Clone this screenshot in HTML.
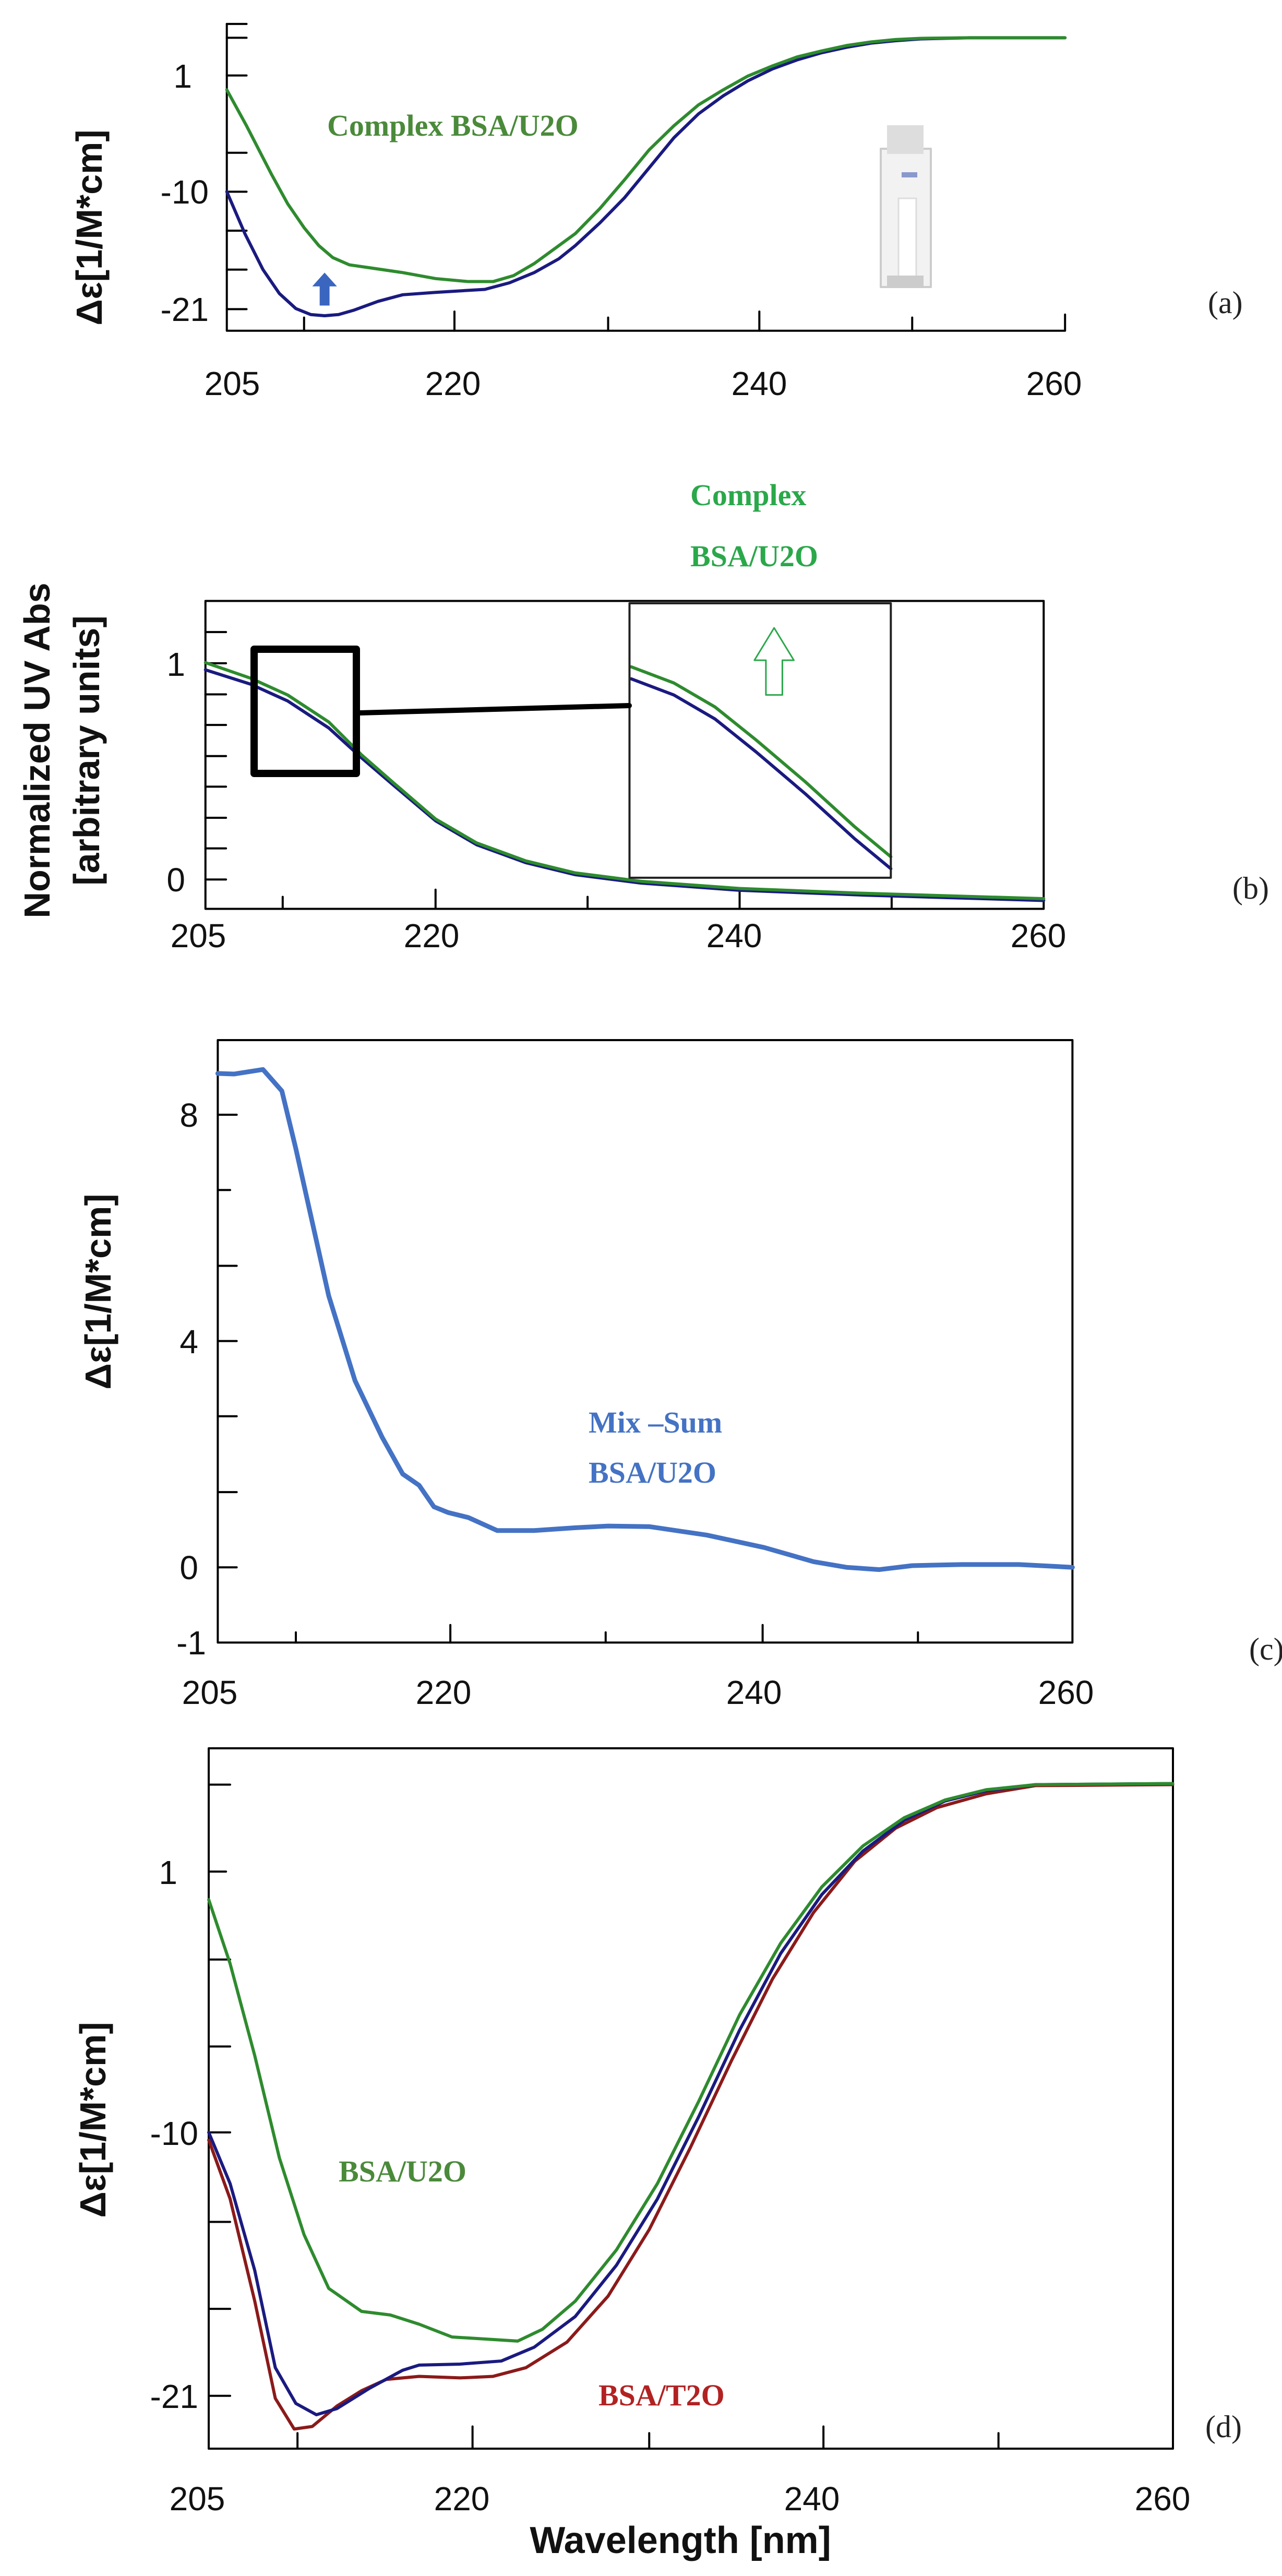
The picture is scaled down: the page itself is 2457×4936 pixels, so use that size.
<!DOCTYPE html>
<html><head><meta charset="utf-8"><style>
html,body{margin:0;padding:0;background:#fff}
svg{display:block}
text{font-family:"Liberation Sans",sans-serif}
.t{font-size:64px;fill:#111}
.s{font-family:"Liberation Serif",serif;font-weight:bold}
.lab{font-family:"Liberation Serif",serif;font-size:60px;fill:#222}
.yl{font-size:70px;font-weight:bold;fill:#111}
</style></head><body>
<svg width="2457" height="4936" viewBox="0 0 2457 4936" xmlns="http://www.w3.org/2000/svg">
<rect width="2457" height="4936" fill="#fff"/>
<g fill="none" stroke-linejoin="round" stroke-linecap="round">
<!-- Panel a -->
<g transform="matrix(1.575,0,0,1.148,0,0)">
<polyline vector-effect="non-scaling-stroke" stroke="#000" stroke-width="4" points="276,40 276,552 1296,552 1296,525"/>
<g vector-effect="non-scaling-stroke" stroke="#000" stroke-width="4">
<line vector-effect="non-scaling-stroke" x1="276" y1="40" x2="300" y2="40"/>
<line vector-effect="non-scaling-stroke" x1="276" y1="63" x2="300" y2="63"/>
<line vector-effect="non-scaling-stroke" x1="276" y1="126" x2="300" y2="126"/>
<line vector-effect="non-scaling-stroke" x1="276" y1="255" x2="300" y2="255"/>
<line vector-effect="non-scaling-stroke" x1="276" y1="320" x2="300" y2="320"/>
<line vector-effect="non-scaling-stroke" x1="276" y1="385" x2="300" y2="385"/>
<line vector-effect="non-scaling-stroke" x1="276" y1="450" x2="300" y2="450"/>
<line vector-effect="non-scaling-stroke" x1="276" y1="516" x2="300" y2="516"/>
<line vector-effect="non-scaling-stroke" x1="370" y1="552" x2="370" y2="530"/>
<line vector-effect="non-scaling-stroke" x1="553" y1="552" x2="553" y2="520"/>
<line vector-effect="non-scaling-stroke" x1="740" y1="552" x2="740" y2="530"/>
<line vector-effect="non-scaling-stroke" x1="924" y1="552" x2="924" y2="520"/>
<line vector-effect="non-scaling-stroke" x1="1110" y1="552" x2="1110" y2="530"/>
</g>
<polyline vector-effect="non-scaling-stroke" stroke="#1a1a80" stroke-width="6" points="276,320 298,390 320,450 340,490 360,515 378,525 395,527 412,525 430,518 460,503 490,492 530,488 590,483 620,472 650,455 680,432 700,410 730,372 760,330 790,280 820,230 850,190 880,160 910,135 940,115 970,100 1000,88 1030,79 1060,72 1090,68 1120,65 1180,63 1296,63"/>
<polyline vector-effect="non-scaling-stroke" stroke="#2e8b2e" stroke-width="6" points="276,150 300,210 330,290 350,340 370,380 388,410 405,430 425,442 450,447 490,455 530,465 570,470 600,470 625,460 650,440 680,410 700,390 730,348 760,300 790,250 820,210 850,175 880,150 910,127 940,110 970,95 1000,85 1030,76 1060,70 1090,66 1120,64 1180,63 1296,63"/>
<polygon fill="#3a66c0" stroke="none" points="395,455 410,478 401,478 401,510 389,510 389,478 380,478"/>
</g>
<!-- cuvette -->
<rect x="1688" y="285" width="96" height="265" fill="#f2f2f2" stroke="#ccc" stroke-width="4"/>
<rect x="1700" y="240" width="70" height="55" fill="#ddd" stroke="none"/>
<rect x="1722" y="380" width="34" height="150" fill="#fff" stroke="#ddd" stroke-width="3"/>
<rect x="1728" y="330" width="30" height="10" fill="#8899cc" stroke="none"/>
<rect x="1700" y="528" width="70" height="20" fill="#ccc" stroke="none"/>

<!-- Panel b -->
<g transform="matrix(1.575,0,0,1.148,0,0)">
<rect vector-effect="non-scaling-stroke" x="250" y="1003" width="1020" height="514" stroke="#000" stroke-width="4"/>
<g stroke="#000">
<line vector-effect="non-scaling-stroke" stroke-width="4" x1="250" y1="1055" x2="275" y2="1055"/>
<line vector-effect="non-scaling-stroke" stroke-width="4" x1="250" y1="1107" x2="275" y2="1107"/>
<line vector-effect="non-scaling-stroke" stroke-width="4" x1="250" y1="1159" x2="275" y2="1159"/>
<line vector-effect="non-scaling-stroke" stroke-width="4" x1="250" y1="1210" x2="275" y2="1210"/>
<line vector-effect="non-scaling-stroke" stroke-width="4" x1="250" y1="1262" x2="275" y2="1262"/>
<line vector-effect="non-scaling-stroke" stroke-width="4" x1="250" y1="1313" x2="275" y2="1313"/>
<line vector-effect="non-scaling-stroke" stroke-width="4" x1="250" y1="1365" x2="275" y2="1365"/>
<line vector-effect="non-scaling-stroke" stroke-width="4" x1="250" y1="1416" x2="275" y2="1416"/>
<line vector-effect="non-scaling-stroke" stroke-width="4" x1="250" y1="1468" x2="275" y2="1468"/>
<line vector-effect="non-scaling-stroke" stroke-width="4" x1="344" y1="1517" x2="344" y2="1497"/>
<line vector-effect="non-scaling-stroke" stroke-width="4" x1="530" y1="1517" x2="530" y2="1485"/>
<line vector-effect="non-scaling-stroke" stroke-width="4" x1="715" y1="1517" x2="715" y2="1497"/>
<line vector-effect="non-scaling-stroke" stroke-width="4" x1="900" y1="1517" x2="900" y2="1485"/>
<line vector-effect="non-scaling-stroke" stroke-width="4" x1="1085" y1="1517" x2="1085" y2="1497"/>
</g>
<polyline vector-effect="non-scaling-stroke" stroke="#1a1a80" stroke-width="6" points="250,1118 305,1142 350,1170 400,1215 440,1265 480,1312 530,1370 580,1410 640,1440 700,1460 780,1474 900,1486 1050,1494 1270,1503"/>
<polyline vector-effect="non-scaling-stroke" stroke="#2e8b2e" stroke-width="6" points="250,1106 305,1132 350,1160 400,1205 440,1260 480,1308 530,1367 580,1407 640,1437 700,1457 780,1471 900,1483 1050,1491 1270,1500"/>
<polyline vector-effect="non-scaling-stroke" stroke="#1a1a80" stroke-width="6" points="768,1133 820,1160 870,1200 920,1255 980,1325 1040,1400 1084,1450"/>
<polyline vector-effect="non-scaling-stroke" stroke="#2e8b2e" stroke-width="6" points="768,1113 820,1140 870,1180 920,1235 980,1305 1040,1380 1084,1430"/>
<rect vector-effect="non-scaling-stroke" x="766" y="1007" width="318" height="458" stroke="#222" stroke-width="4"/>
<polygon vector-effect="non-scaling-stroke" stroke="#2aa84a" stroke-width="3" points="942,1048 966,1102 952,1102 952,1160 932,1160 932,1102 918,1102"/>
</g>
<rect x="487" y="1244" width="196" height="238" stroke="#000" stroke-width="14"/>
<line x1="690" y1="1366" x2="1206" y2="1352" stroke="#000" stroke-width="10"/>

<!-- Panel c -->
<g transform="matrix(1.575,0,0,1.084,0,1800)">
<rect vector-effect="non-scaling-stroke" x="265" y="178" width="1040" height="1065" stroke="#000" stroke-width="4"/>
<g stroke="#000">
<line vector-effect="non-scaling-stroke" stroke-width="4" x1="265" y1="310" x2="288" y2="310"/>
<line vector-effect="non-scaling-stroke" stroke-width="4" x1="265" y1="443" x2="280" y2="443"/>
<line vector-effect="non-scaling-stroke" stroke-width="4" x1="265" y1="577" x2="288" y2="577"/>
<line vector-effect="non-scaling-stroke" stroke-width="4" x1="265" y1="710" x2="288" y2="710"/>
<line vector-effect="non-scaling-stroke" stroke-width="4" x1="265" y1="843" x2="288" y2="843"/>
<line vector-effect="non-scaling-stroke" stroke-width="4" x1="265" y1="977" x2="288" y2="977"/>
<line vector-effect="non-scaling-stroke" stroke-width="4" x1="265" y1="1110" x2="288" y2="1110"/>
<line vector-effect="non-scaling-stroke" stroke-width="4" x1="360" y1="1243" x2="360" y2="1225"/>
<line vector-effect="non-scaling-stroke" stroke-width="4" x1="548" y1="1243" x2="548" y2="1212"/>
<line vector-effect="non-scaling-stroke" stroke-width="4" x1="737" y1="1243" x2="737" y2="1225"/>
<line vector-effect="non-scaling-stroke" stroke-width="4" x1="928" y1="1243" x2="928" y2="1212"/>
<line vector-effect="non-scaling-stroke" stroke-width="4" x1="1117" y1="1243" x2="1117" y2="1225"/>
</g>
<polyline vector-effect="non-scaling-stroke" stroke="#4472c4" stroke-width="9" points="265,237 285,238 320,230 343,268 360,370 380,500 400,630 432,780 465,880 490,945 510,965 528,1003 545,1013 570,1022 605,1045 650,1045 700,1040 740,1037 790,1038 860,1053 930,1075 990,1100 1030,1110 1070,1114 1110,1107 1170,1105 1240,1105 1305,1110"/>
</g>

<!-- Panel d -->
<rect x="400" y="3350" width="1848" height="1342" stroke="#000" stroke-width="4"/>
<g transform="matrix(1.575,0,0,0.98,0,3400)">
<g stroke="#000">
<line vector-effect="non-scaling-stroke" stroke-width="4" x1="254" y1="20" x2="280" y2="20"/>
<line vector-effect="non-scaling-stroke" stroke-width="4" x1="254" y1="190" x2="275" y2="190"/>
<line vector-effect="non-scaling-stroke" stroke-width="4" x1="254" y1="362" x2="280" y2="362"/>
<line vector-effect="non-scaling-stroke" stroke-width="4" x1="254" y1="532" x2="280" y2="532"/>
<line vector-effect="non-scaling-stroke" stroke-width="4" x1="254" y1="700" x2="280" y2="700"/>
<line vector-effect="non-scaling-stroke" stroke-width="4" x1="254" y1="875" x2="280" y2="875"/>
<line vector-effect="non-scaling-stroke" stroke-width="4" x1="254" y1="1045" x2="280" y2="1045"/>
<line vector-effect="non-scaling-stroke" stroke-width="4" x1="254" y1="1215" x2="280" y2="1215"/>
<line vector-effect="non-scaling-stroke" stroke-width="4" x1="362" y1="1318" x2="362" y2="1288"/>
<line vector-effect="non-scaling-stroke" stroke-width="4" x1="575" y1="1318" x2="575" y2="1275"/>
<line vector-effect="non-scaling-stroke" stroke-width="4" x1="790" y1="1318" x2="790" y2="1288"/>
<line vector-effect="non-scaling-stroke" stroke-width="4" x1="1002" y1="1318" x2="1002" y2="1275"/>
<line vector-effect="non-scaling-stroke" stroke-width="4" x1="1215" y1="1318" x2="1215" y2="1288"/>
</g>
<polyline vector-effect="non-scaling-stroke" stroke="#8b1a1a" stroke-width="6" points="254,715 280,830 310,1030 335,1220 358,1280 380,1275 410,1235 440,1205 470,1183 510,1177 560,1180 600,1177 640,1160 690,1110 740,1020 790,890 840,730 890,560 940,400 990,270 1040,170 1090,105 1140,65 1200,38 1260,22 1427,20"/>
<polyline vector-effect="non-scaling-stroke" stroke="#1a1a80" stroke-width="6" points="254,700 280,800 310,970 335,1160 360,1230 385,1252 410,1240 450,1200 490,1165 510,1155 560,1153 610,1147 650,1120 700,1060 750,960 800,830 850,670 900,500 950,350 1000,235 1050,150 1100,90 1150,52 1200,32 1260,20 1427,18"/>
<polyline vector-effect="non-scaling-stroke" stroke="#2e8b2e" stroke-width="6" points="254,245 280,370 310,550 340,750 370,900 400,1005 440,1050 475,1057 510,1075 550,1100 600,1105 630,1108 660,1085 700,1030 750,930 800,800 850,640 900,470 950,330 1000,220 1050,140 1100,85 1150,50 1200,30 1260,20 1427,18"/>
</g>
</g>

<!-- Text panel a -->
<g class="t" text-anchor="middle">
<text x="368" y="168" text-anchor="end">1</text>
<text x="400" y="390" text-anchor="end">-10</text>
<text x="400" y="615" text-anchor="end">-21</text>
<text x="445" y="757">205</text>
<text x="868" y="757">220</text>
<text x="1455" y="757">240</text>
<text x="2020" y="757">260</text>
</g>
<text class="yl" transform="translate(195,436) rotate(-90)" text-anchor="middle">Δε[1/M*cm]</text>
<text class="s" x="627" y="260" font-size="58" fill="#4a8a3a">Complex BSA/U2O</text>
<text class="lab" x="2315" y="600">(a)</text>

<!-- Text panel b -->
<text class="s" x="1323" y="968" font-size="58" fill="#2aa84a">Complex</text>
<text class="s" x="1323" y="1085" font-size="58" fill="#2aa84a">BSA/U2O</text>
<g class="t" text-anchor="middle">
<text x="355" y="1295" text-anchor="end">1</text>
<text x="355" y="1708" text-anchor="end">0</text>
<text x="380" y="1815">205</text>
<text x="827" y="1815">220</text>
<text x="1407" y="1815">240</text>
<text x="1990" y="1815">260</text>
</g>
<text class="yl" transform="translate(95,1438) rotate(-90)" text-anchor="middle">Normalized UV Abs</text>
<text class="yl" transform="translate(190,1438) rotate(-90)" text-anchor="middle">[arbitrary units]</text>
<text class="lab" x="2362" y="1722">(b)</text>

<!-- Text panel c -->
<g class="t" text-anchor="middle">
<text x="380" y="2159" text-anchor="end">8</text>
<text x="380" y="2593" text-anchor="end">4</text>
<text x="380" y="3026" text-anchor="end">0</text>
<text x="395" y="3170" text-anchor="end">-1</text>
<text x="402" y="3265">205</text>
<text x="850" y="3265">220</text>
<text x="1445" y="3265">240</text>
<text x="2043" y="3265">260</text>
</g>
<text class="yl" transform="translate(212,2475) rotate(-90)" text-anchor="middle">Δε[1/M*cm]</text>
<text class="s" x="1128" y="2745" font-size="58" fill="#4472c4">Mix –Sum</text>
<text class="s" x="1128" y="2841" font-size="58" fill="#4472c4">BSA/U2O</text>
<text class="lab" x="2394" y="3180">(c)</text>

<!-- Text panel d -->
<g class="t" text-anchor="middle">
<text x="340" y="3610" text-anchor="end">1</text>
<text x="380" y="4110" text-anchor="end">-10</text>
<text x="380" y="4614" text-anchor="end">-21</text>
<text x="378" y="4810">205</text>
<text x="885" y="4810">220</text>
<text x="1556" y="4810">240</text>
<text x="2228" y="4810">260</text>
</g>
<text class="yl" transform="translate(202,4062) rotate(-90)" text-anchor="middle">Δε[1/M*cm]</text>
<text x="1304" y="4892" text-anchor="middle" font-size="72" font-weight="bold" fill="#111">Wavelength [nm]</text>
<text class="s" x="649" y="4180" font-size="58" fill="#4a8a3a">BSA/U2O</text>
<text class="s" x="1147" y="4609" font-size="58" fill="#b22222">BSA/T2O</text>
<text class="lab" x="2310" y="4670">(d)</text>
</svg>
</body></html>
